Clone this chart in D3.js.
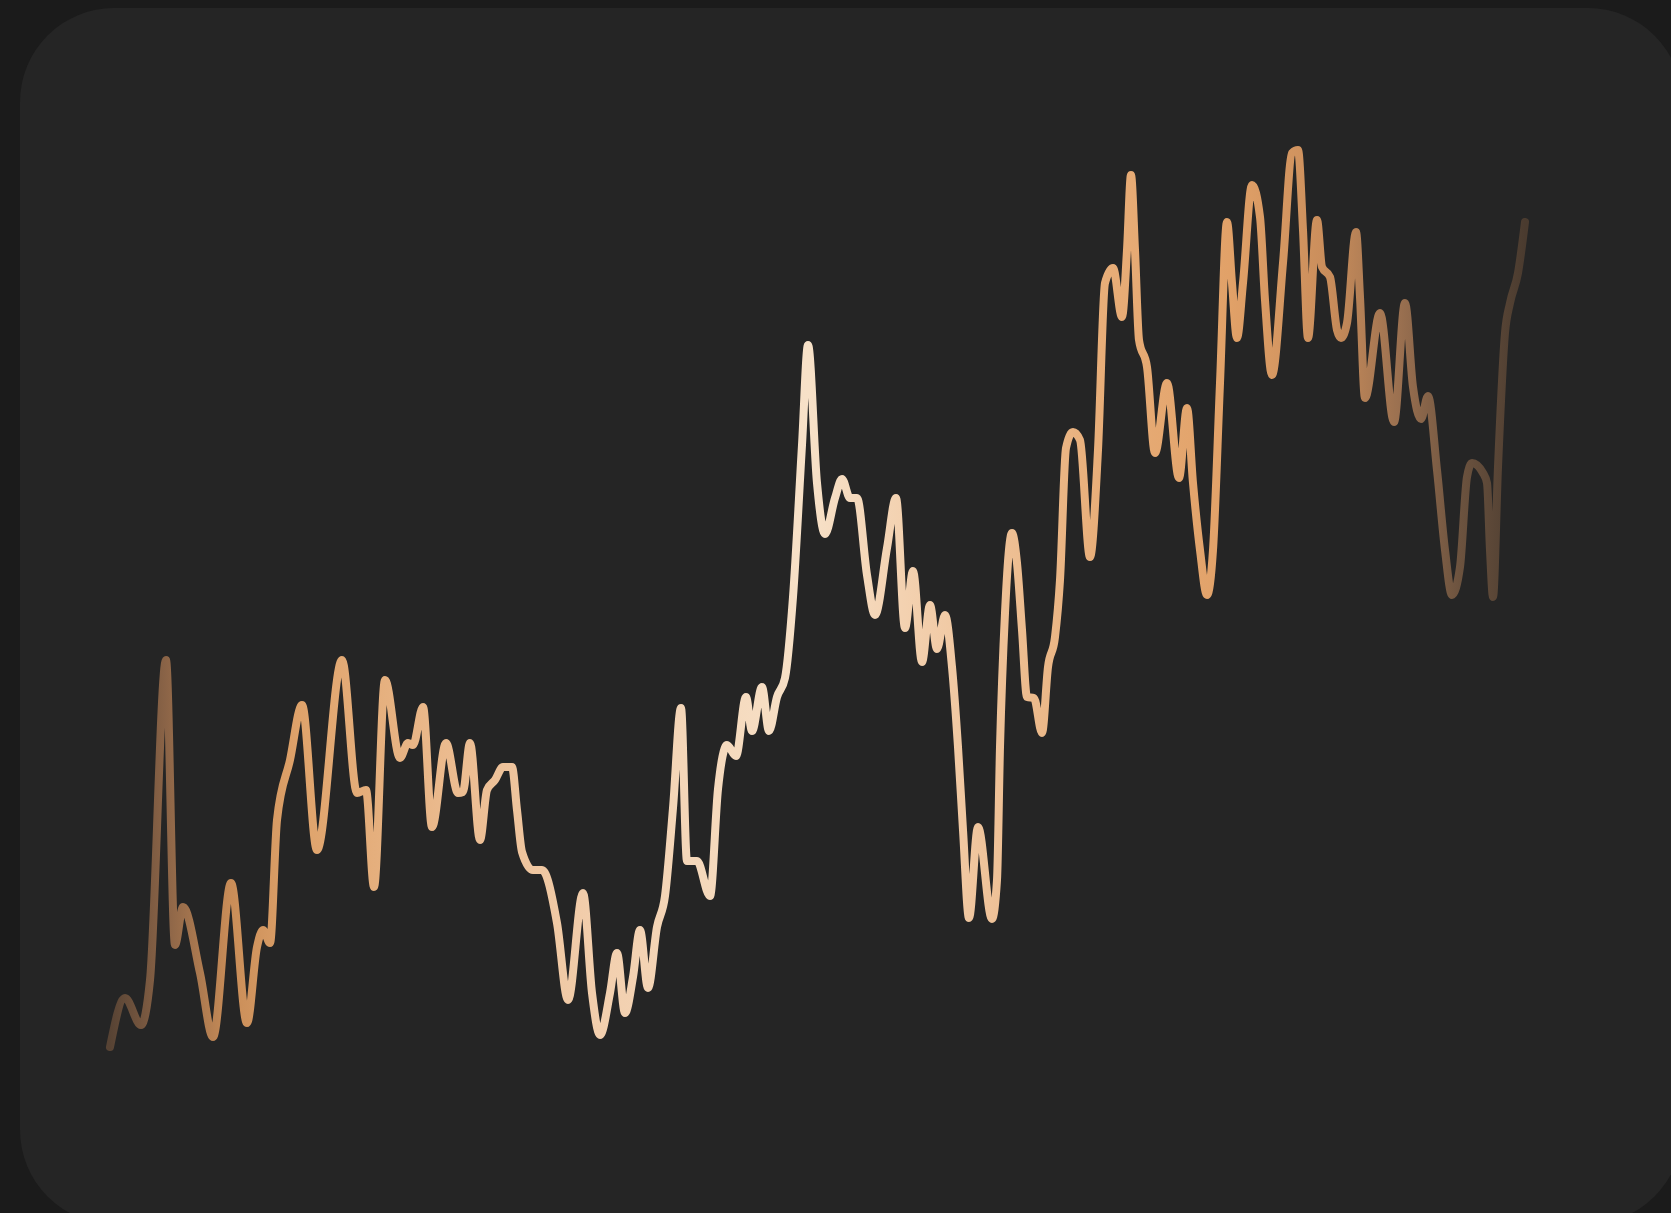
<!DOCTYPE html>
<html>
<head>
<meta charset="utf-8">
<script src="https://cdn.jsdelivr.net/npm/d3@7"></script>
<style>
  html, body { margin: 0; padding: 0; background: #1b1b1b; overflow: hidden; }
  svg { display: block; }
</style>
</head>
<body>
<svg id="chart" width="1671" height="1213"></svg>
<script>
// time index of each reading
const times = [
  0, 1.5, 3.1, 4.0, 5.6, 6.5, 7.3, 9.0, 10.3, 12.1, 13.7, 14.7, 15.3, 16.0, 16.7, 18.0, 19.2, 20.7, 23.2, 24.7,
  25.6, 26.4, 27.5, 29.0, 29.8, 30.3, 31.3, 32.2, 33.6, 34.8, 35.3, 36.0, 37.0, 37.7, 38.5, 39.3, 40.2, 40.7, 41.2, 42.3,
  43.2, 44.7, 45.8, 47.3, 48.2, 49.0, 50.0, 50.7, 51.5, 52.3, 53.0, 53.8, 54.7, 55.5, 56.3, 57.1, 57.7, 58.7, 60.0, 60.8,
  61.7, 62.6, 63.6, 64.2, 65.2, 65.9, 66.7, 67.5, 68.3, 69.2, 69.8, 70.7, 71.5, 72.5, 73.2, 74.0, 74.7, 75.7, 76.5, 77.7,
  78.6, 79.5, 80.3, 81.2, 82.0, 82.7, 83.5, 84.2, 84.8, 85.3, 85.9, 86.8, 88.2, 88.7, 89.0, 89.5, 90.2, 90.7, 91.2, 91.7,
  92.4, 93.2, 93.8, 94.5, 95.0, 95.6, 96.3, 97.0, 98.0, 98.8, 99.5, 100.3, 101.2, 101.7, 102.1, 102.5, 102.9, 103.7, 104.5, 105.7,
  106.9, 107.7, 108.3, 109.0, 109.7, 110.3, 111.0, 111.7, 112.2, 112.7, 113.3, 114.2, 115.0, 115.5, 116.2, 117.3, 118.2, 118.8, 119.3, 119.8,
  120.7, 121.2, 122.0, 122.7, 123.1, 123.7, 124.6, 125.0, 125.5, 127.0, 128.4, 129.5, 130.3, 131.1, 131.8, 132.7, 133.5, 134.2, 135.0, 135.7,
  136.2, 137.3, 137.7, 138.0, 138.3, 138.8, 139.5, 140.0, 140.8, 141.5
];

// series values
const values = [
  5.3, 10.2, 7.5, 12.0, 44.0, 15.5, 19.3, 12.7, 6.3, 21.7, 7.7, 15.3, 17.0, 15.7, 28.0, 34.0, 39.5, 25.0, 44.0, 30.7,
  31.0, 21.3, 42.0, 34.2, 35.7, 35.5, 39.3, 27.3, 35.7, 30.7, 30.8, 35.7, 26.0, 31.0, 32.0, 33.3, 33.3, 29.0, 24.8, 23.0,
  23.0, 17.7, 10.0, 20.7, 10.7, 6.5, 10.7, 14.7, 8.7, 12.3, 17.0, 11.2, 17.3, 20.4, 29.2, 39.2, 23.9, 23.9, 20.4, 31.1,
  35.5, 34.4, 40.3, 36.9, 41.3, 36.9, 40.3, 42.2, 50.3, 65.5, 75.5, 61.7, 56.6, 60.2, 62.1, 60.2, 60.2, 52.5, 48.5, 55.2,
  60.2, 47.2, 52.9, 43.8, 49.5, 45.1, 48.5, 43.3, 35.3, 27.0, 18.2, 27.3, 18.1, 22.0, 35.3, 48.7, 56.7, 53.7, 47.0, 40.3,
  40.2, 36.7, 43.3, 46.3, 52.0, 65.2, 66.8, 66.0, 54.3, 65.0, 81.7, 83.2, 78.3, 85.0, 92.5, 85.0, 76.0, 73.3, 64.7, 71.7,
  62.2, 69.2, 61.7, 55.0, 50.5, 55.0, 71.7, 87.8, 81.7, 76.2, 81.7, 91.5, 88.3, 80.0, 72.5, 83.7, 94.7, 95.0, 87.0, 76.2,
  88.0, 83.3, 82.3, 77.0, 76.2, 77.7, 86.8, 80.3, 70.2, 78.7, 67.8, 79.7, 71.3, 68.1, 70.4, 63.0, 55.0, 50.5, 53.3, 62.3,
  63.7, 62.7, 61.7, 55.0, 50.3, 63.3, 76.7, 79.7, 82.7, 87.8
];

// colour ramp along the time axis
const rampTimes  = [0, 5.6, 12.0, 19.0, 34.0, 49.0, 69.8, 84.0, 99.0, 112.0, 122.0, 129.0, 135.0, 141.5];
const rampColors = ["#574334", "#8b6447", "#c98d58", "#dfa36b", "#ebbb8f", "#f2cfae", "#f7e1c8",
                    "#f1caa5", "#e8ae79", "#e1a168", "#c98d5b", "#9a7050", "#6c533f", "#4a3b2f"];

const W = 1671, H = 1213;
const svg = d3.select("#chart");

// card
svg.append("rect")
  .attr("x", 20).attr("y", 8)
  .attr("width", 1662).attr("height", 1216)
  .attr("rx", 94).attr("ry", 94)
  .attr("fill", "#252525");

const x = d3.scaleLinear().domain([0, 141.5]).range([110, 1525]);
const y = d3.scaleLinear().domain([0, 100]).range([1100, 100]);

const data = times.map((t, i) => ({ t, v: values[i] }));

const defs = svg.append("defs");
const grad = defs.append("linearGradient")
  .attr("id", "lineGrad")
  .attr("gradientUnits", "userSpaceOnUse")
  .attr("x1", x(0)).attr("x2", x(141.5))
  .attr("y1", 0).attr("y2", 0);
grad.selectAll("stop")
  .data(rampTimes.map((t, i) => ({ t, c: rampColors[i] })))
  .join("stop")
  .attr("offset", d => (x(d.t) - x(0)) / (x(141.5) - x(0)))
  .attr("stop-color", d => d.c);

const line = d3.line()
  .x(d => x(d.t))
  .y(d => y(d.v))
  .curve(d3.curveMonotoneX);

svg.append("path")
  .datum(data)
  .attr("d", line)
  .attr("fill", "none")
  .attr("stroke", "url(#lineGrad)")
  .attr("stroke-width", 8)
  .attr("stroke-linecap", "round")
  .attr("stroke-linejoin", "round");
</script>
</body>
</html>
